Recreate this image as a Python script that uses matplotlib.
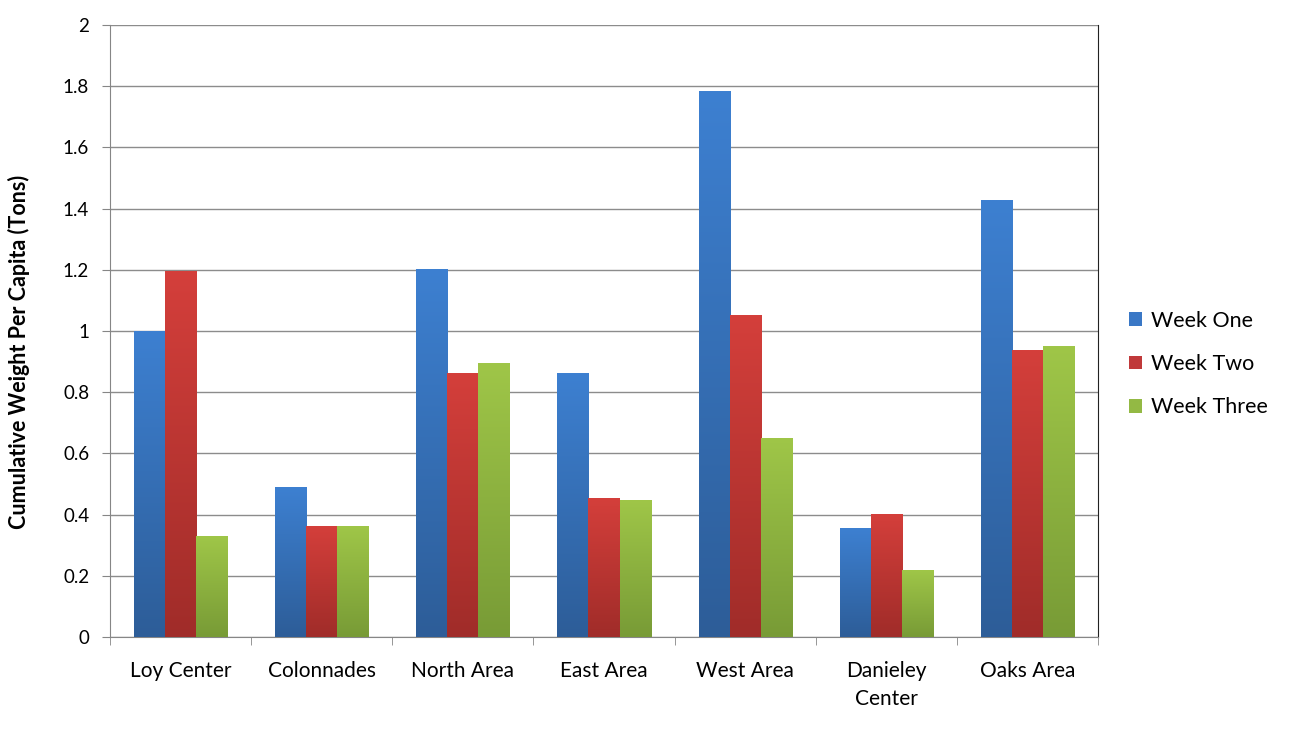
import numpy as np
import matplotlib
matplotlib.use("Agg")
import matplotlib.pyplot as plt
from matplotlib.patches import Patch
from matplotlib.colors import LinearSegmentedColormap

plt.rcParams["font.family"] = ["Lato", "DejaVu Sans"]

categories = ["Loy Center", "Colonnades", "North Area", "East Area",
              "West Area", "Danieley\nCenter", "Oaks Area"]
week_one = [0.997, 0.487, 1.200, 0.862, 1.782, 0.355, 1.425]
week_two = [1.195, 0.360, 0.862, 0.452, 1.052, 0.399, 0.937]
week_three = [0.327, 0.360, 0.895, 0.445, 0.649, 0.217, 0.948]
series_names = ["Week One", "Week Two", "Week Three"]
yticks = [0, 0.2, 0.4, 0.6, 0.8, 1, 1.2, 1.4, 1.6, 1.8, 2]

# (top colour, bottom colour, legend colour)
styles = [("#3d80d1", "#2d5d98", "#3a78c6"),
          ("#d43f3b", "#a02c29", "#c0393a"),
          ("#9fc648", "#789b36", "#93b944")]

fig = plt.figure(figsize=(12.96, 7.29), dpi=100)
ax = fig.add_axes([110 / 1296, 92 / 729, 988 / 1296, 612 / 729])

x = np.arange(len(categories))
w = 0.22
grad = np.linspace(0, 1, 256).reshape(-1, 1)

for i, vals in enumerate([week_one, week_two, week_three]):
    top, bottom, _ = styles[i]
    cmap = LinearSegmentedColormap.from_list(f"g{i}", [bottom, top])
    bars = ax.bar(x + (i - 1) * w, vals, w, color="none", zorder=3)
    for b in bars:
        x0, y0 = b.get_x(), b.get_y()
        ax.imshow(grad, cmap=cmap, origin="lower", aspect="auto",
                  extent=[x0, x0 + b.get_width(), y0, y0 + b.get_height()],
                  zorder=3, interpolation="bilinear")

ax.set_xlim(-0.5, len(categories) - 0.5)
ax.set_ylim(0, 2)
ax.set_yticks(yticks)
ax.set_yticklabels([f"{v:g}" for v in yticks], fontsize=13.5)
ax.yaxis.grid(True, color="#8c8c8c", linewidth=1, zorder=0)
ax.set_axisbelow(True)

ax.set_xticks(x)
ax.set_xticklabels(categories, fontsize=15, linespacing=1.5)
ax.tick_params(axis="x", length=0, pad=17)
ax.set_xticks(np.arange(len(categories) + 1) - 0.5, minor=True)
ax.tick_params(axis="x", which="minor", length=6, color="#868686")
ax.tick_params(axis="y", length=6, color="#868686", pad=9)

for s in ["left", "bottom"]:
    ax.spines[s].set_color("#868686")
ax.spines["top"].set_visible(False)
ax.spines["right"].set_color("#222222")

ax.set_ylabel("Cumulative Weight Per Capita (Tons)", fontsize=15.5,
              fontweight="bold")
ax.yaxis.set_label_coords(-0.081, 0.466)

handles = [Patch(facecolor=s[2], edgecolor="none") for s in styles]
ax.legend(handles, series_names, loc="center left", bbox_to_anchor=(1.012, 0.446),
          frameon=False, fontsize=15.5, handlelength=0.6, handleheight=0.6,
          handletextpad=0.4, labelspacing=1.08)

fig.savefig("out.png", dpi=100)
